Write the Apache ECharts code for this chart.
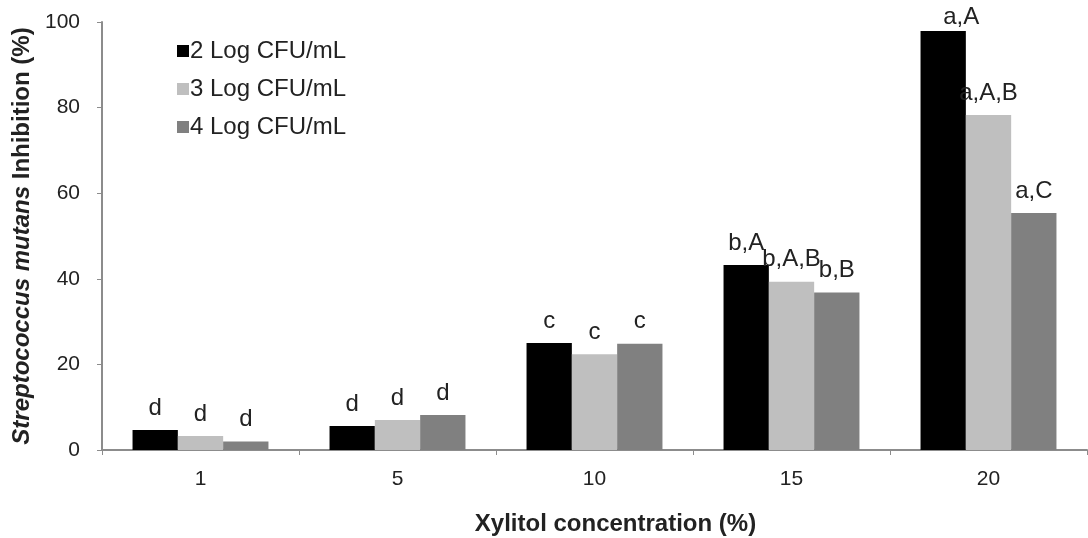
<!DOCTYPE html>
<html><head><meta charset="utf-8">
<script src="https://cdn.jsdelivr.net/npm/echarts@6/dist/echarts.min.js"></script>
<style>html,body{margin:0;padding:0;background:#fff;overflow:hidden}#c{width:1088px;height:538px}</style>
</head><body><div id="c"></div>
<script>
const categories = ['1', '5', '10', '15', '20'];
const seriesNames = ['2 Log CFU/mL', '3 Log CFU/mL', '4 Log CFU/mL'];
const log2 = [4.7, 5.6, 25.0, 43.2, 97.9];
const log3 = [3.3, 7.0, 22.4, 39.3, 78.3];
const log4 = [2.0, 8.2, 24.8, 36.8, 55.4];
const labels2 = ['d', 'd', 'c', 'b,A', 'a,A'];
const labels3 = ['d', 'd', 'c', 'b,A,B', 'a,A,B'];
const labels4 = ['d', 'd', 'c', 'b,B', 'a,C'];
const yTicks = [0, 20, 40, 60, 80, 100];
const colors = ['#000000', '#bfbfbf', '#808080'];

const FONT = 'Liberation Sans, Arial, sans-serif';
const chart = echarts.init(document.getElementById('c'), null, {renderer: 'canvas'});
function mk(name, data, labs, color) {
  return {
    name: name, type: 'bar', data: data,
    barGap: '0%', barCategoryGap: '31%',
    itemStyle: {color: color},
    label: {
      show: true, position: 'top', distance: 10,
      fontFamily: FONT, fontSize: 24, color: '#222',
      formatter: p => labs[p.dataIndex]
    },
    labelLayout: function (params) {
      const r = params.labelRect;
      if (r.y < 5) {
        return {y: 5, verticalAlign: 'top'};
      }
      return {};
    }
  };
}
chart.setOption({
  animation: false,
  textStyle: {fontFamily: FONT},
  grid: {left: 102, right: 1, top: 22, bottom: 88, containLabel: false, outerBoundsMode: 'none'},
  legend: {
    orient: 'vertical', left: 172, top: 34, itemGap: 14,
    itemWidth: 12, itemHeight: 12, icon: 'rect',
    textStyle: {fontFamily: FONT, fontSize: 24, color: '#222', padding: [0, 0, 0, -4]},
    data: seriesNames
  },
  xAxis: {
    type: 'category', data: categories,
    name: 'Xylitol concentration (%)', nameLocation: 'middle', nameGap: 62,
    nameTextStyle: {fontFamily: FONT, fontSize: 24, fontWeight: 'bold', color: '#222', padding: [0, 0, 0, 42]},
    axisLine: {lineStyle: {color: '#8c8c8c', width: 2}},
    axisTick: {show: true, length: 5, lineStyle: {color: '#8c8c8c'}},
    axisLabel: {fontFamily: FONT, fontSize: 21, color: '#222', margin: 19}
  },
  yAxis: {
    type: 'value', min: 0, max: 100, interval: 20,
    name: '{i|Streptococcus mutans} Inhibition (%)', nameLocation: 'middle', nameGap: 66,
    nameRotate: 90,
    nameTextStyle: {
      fontFamily: FONT, fontSize: 24, fontWeight: 'bold', color: '#222',
      rich: {i: {fontFamily: FONT, fontSize: 24, fontWeight: 'bold', fontStyle: 'italic', color: '#222'}}
    },
    splitLine: {show: false},
    axisLine: {show: true, lineStyle: {color: '#8c8c8c', width: 2}},
    axisTick: {show: true, length: 5, lineStyle: {color: '#8c8c8c'}},
    axisLabel: {fontFamily: FONT, fontSize: 21, color: '#222', margin: 22,
      formatter: v => yTicks.includes(v) ? String(v) : ''}
  },
  series: [
    mk(seriesNames[0], log2, labels2, colors[0]),
    mk(seriesNames[1], log3, labels3, colors[1]),
    mk(seriesNames[2], log4, labels4, colors[2])
  ]
});
</script></body></html>
